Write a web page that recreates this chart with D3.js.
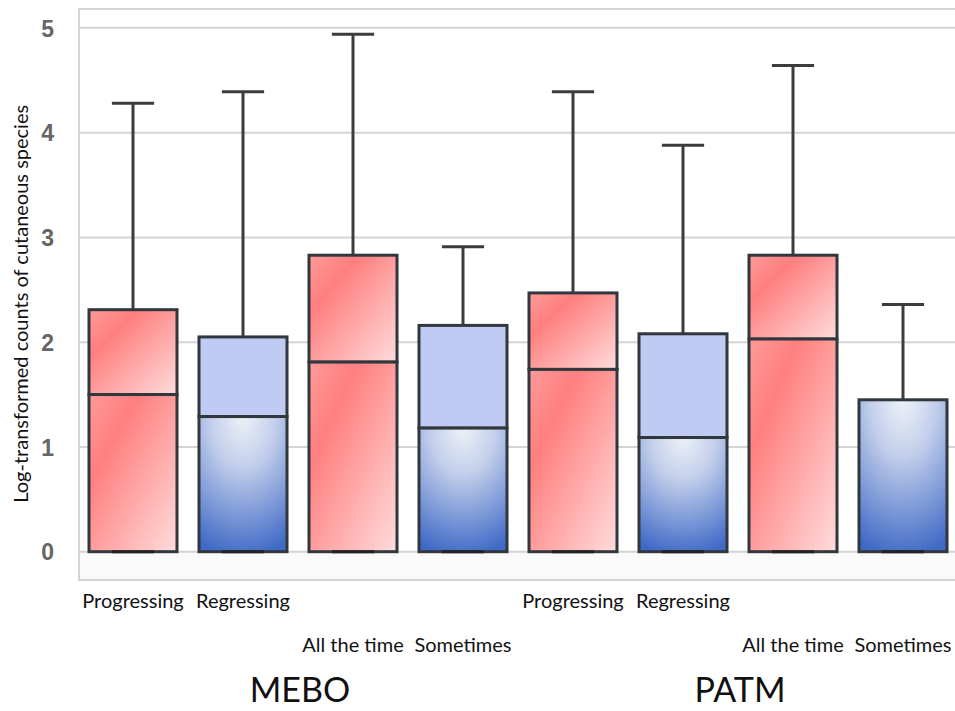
<!DOCTYPE html>
<html lang="en">
<head>
  <meta charset="UTF-8" />
  <title>Log-transformed counts of cutaneous species</title>
  <script src="https://d3js.org/d3.v7.min.js"></script>
  <style>
    body {
      margin: 0;
      background-color: #ffffff;
    }
    svg {
      display: block;
    }
    .cat-label {
      font-family: Lato, 'Open Sans', sans-serif;
      font-size: 20px;
      fill: #111;
    }
    .group-label {
      font-family: Lato, 'Open Sans', sans-serif;
      font-size: 34px;
      fill: #111;
    }
    .y-title {
      font-family: Lato, 'Open Sans', sans-serif;
      font-size: 20px;
      fill: #111;
    }
    .y-tick {
      font-family: 'Liberation Sans', Arial, sans-serif;
      font-size: 23px;
      font-weight: bold;
      fill: #666;
    }
  </style>
</head>
<body>
  <svg width="955" height="711"></svg>
  <script>
    // values
    const categories = ["Progressing", "Regressing", "All the time", "Sometimes",
                        "Progressing", "Regressing", "All the time", "Sometimes"];
    const groupOf = ["MEBO", "MEBO", "MEBO", "MEBO", "PATM", "PATM", "PATM", "PATM"];
    const groups = ["MEBO", "PATM"];
    const whiskerLow = [0, 0, 0, 0, 0, 0, 0, 0];
    const q1 = [0, 0, 0, 0, 0, 0, 0, 0];
    const medians = [1.50, 1.29, 1.81, 1.18, 1.74, 1.09, 2.03, 1.45];
    const q3 = [2.31, 2.05, 2.83, 2.16, 2.47, 2.08, 2.83, 1.45];
    const whiskerHigh = [4.28, 4.39, 4.94, 2.91, 4.39, 3.88, 4.64, 2.36];
    const yTicks = [0, 1, 2, 3, 4, 5];

    const svg = d3.select("svg");

    const plot = { left: 78, right: 958, top: 9, bottom: 580 };

    const x = d3.scaleBand()
      .domain(d3.range(categories.length))
      .range([plot.left, plot.right])
      .paddingInner(0.2)
      .paddingOuter(0.1);

    const y = d3.scaleLinear()
      .domain([-0.27, 5.18])
      .range([plot.bottom, plot.top]);

    // red for Progressing / All the time, blue for Regressing / Sometimes
    const scheme = d3.scaleOrdinal()
      .domain(["Progressing", "All the time", "Regressing", "Sometimes"])
      .range(["red", "red", "blue", "blue"]);

    const defs = svg.append("defs");
    const red = defs.append("linearGradient")
      .attr("id", "redFill")
      .attr("x1", 0).attr("y1", 0).attr("x2", 1).attr("y2", 1);
    red.append("stop").attr("offset", "0%").attr("stop-color", "#ff9a9a");
    red.append("stop").attr("offset", "28%").attr("stop-color", "#ff7f7f");
    red.append("stop").attr("offset", "100%").attr("stop-color", "#ffdcdc");

    const blue = defs.append("radialGradient")
      .attr("id", "blueFill")
      .attr("cx", 0.5).attr("cy", 0).attr("r", 1.05)
      .attr("fx", 0.5).attr("fy", 0);
    blue.append("stop").attr("offset", "0%").attr("stop-color", "#eef1f7");
    blue.append("stop").attr("offset", "35%").attr("stop-color", "#c3cfeb");
    blue.append("stop").attr("offset", "100%").attr("stop-color", "#3f69c6");

    // frame + grid
    svg.append("rect")
      .attr("x", plot.left).attr("y", y(0))
      .attr("width", 955 - plot.left).attr("height", plot.bottom - y(0))
      .attr("fill", "#fafafa");

    svg.append("g")
      .selectAll("line")
      .data(yTicks)
      .join("line")
      .attr("x1", plot.left).attr("x2", 955)
      .attr("y1", d => y(d)).attr("y2", d => y(d))
      .attr("stroke", "#d4d4d4")
      .attr("stroke-width", 2);

    svg.append("path")
      .attr("d", `M955,${plot.top}H${plot.left + 1}V${plot.bottom}H955`)
      .attr("fill", "none")
      .attr("stroke", "#d4d4d4")
      .attr("stroke-width", 2);

    svg.append("g")
      .selectAll("text")
      .data(yTicks)
      .join("text")
      .attr("class", "y-tick")
      .attr("x", 54)
      .attr("y", d => y(d))
      .attr("dy", "0.38em")
      .attr("text-anchor", "end")
      .text(d => d);

    svg.append("text")
      .attr("class", "y-title")
      .attr("transform", `translate(28,${(y(0) + y(5)) / 2 + 14}) rotate(-90)`)
      .attr("text-anchor", "middle")
      .text("Log-transformed counts of cutaneous species");

    // boxes
    const boxes = svg.append("g")
      .selectAll("g")
      .data(categories.map((c, i) => i))
      .join("g");

    const cx = i => x(i) + x.bandwidth() / 2;
    const capW = x.bandwidth() * 0.48;

    boxes.append("line")
      .attr("x1", cx).attr("x2", cx)
      .attr("y1", i => y(whiskerHigh[i])).attr("y2", i => y(q3[i]))
      .attr("stroke", "#3c3c3c").attr("stroke-width", 3);
    boxes.append("line")
      .attr("x1", i => cx(i) - capW / 2).attr("x2", i => cx(i) + capW / 2)
      .attr("y1", i => y(whiskerHigh[i])).attr("y2", i => y(whiskerHigh[i]))
      .attr("stroke", "#3c3c3c").attr("stroke-width", 3);

    // upper half: median -> q3
    boxes.append("rect")
      .attr("x", i => x(i))
      .attr("width", x.bandwidth())
      .attr("y", i => y(q3[i]))
      .attr("height", i => Math.max(0, y(medians[i]) - y(q3[i])))
      .attr("fill", i => scheme(categories[i]) === "red" ? "url(#redFill)" : "#c0cbf3")
      .attr("stroke", "#30373d").attr("stroke-width", 3);

    // lower half: q1 -> median
    boxes.append("rect")
      .attr("x", i => x(i))
      .attr("width", x.bandwidth())
      .attr("y", i => y(medians[i]))
      .attr("height", i => y(q1[i]) - y(medians[i]))
      .attr("fill", i => scheme(categories[i]) === "red" ? "url(#redFill)" : "url(#blueFill)")
      .attr("stroke", "#30373d").attr("stroke-width", 3);

    boxes.append("line")
      .attr("x1", i => cx(i) - capW / 2).attr("x2", i => cx(i) + capW / 2)
      .attr("y1", i => y(whiskerLow[i])).attr("y2", i => y(whiskerLow[i]))
      .attr("stroke", "#222").attr("stroke-width", 3);

    // category labels, staggered on two rows
    svg.append("g")
      .selectAll("text")
      .data(categories.map((c, i) => i))
      .join("text")
      .attr("class", "cat-label")
      .attr("x", cx)
      .attr("y", i => (i % 4) < 2 ? 608 : 652)
      .attr("text-anchor", "middle")
      .text(i => categories[i]);

    // group labels centred under their four boxes
    svg.append("g")
      .selectAll("text")
      .data(groups)
      .join("text")
      .attr("class", "group-label")
      .attr("x", g => {
        const idx = d3.range(categories.length).filter(i => groupOf[i] === g);
        return (cx(idx[0]) + cx(idx[idx.length - 1])) / 2 + 2;
      })
      .attr("y", 702)
      .attr("text-anchor", "middle")
      .text(g => g);
  </script>
</body>
</html>
